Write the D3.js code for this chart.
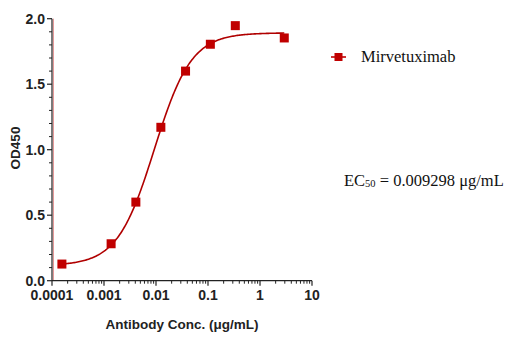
<!DOCTYPE html>
<html><head><meta charset="utf-8">
<script src="https://cdn.jsdelivr.net/npm/d3@7"></script>
<style>body{margin:0;background:#fff}svg{display:block}</style>
</head><body>
<svg id="c" width="527" height="341"></svg>
<script>
// Data
const conc = [0.000155, 0.00137, 0.0041, 0.0124, 0.037, 0.111, 0.335, 2.93];
const od   = [0.127, 0.282, 0.600, 1.171, 1.600, 1.805, 1.947, 1.853];
const xTickVals = [0.0001, 0.001, 0.01, 0.1, 1, 10];
const xTickLabels = ["0.0001", "0.001", "0.01", "0.1", "1", "10"];
const yTickVals = [0, 0.5, 1.0, 1.5, 2.0];
const yTickLabels = ["0.0", "0.5", "1.0", "1.5", "2.0"];
// 4PL fit parameters
const fitBottom = 0.115, fitTop = 1.892, fitEC50 = 0.009298, fitHill = 1.22;
const seriesName = "Mirvetuximab";

const red = "#c00000";
const svg = d3.select("#c");
const x = d3.scaleLog().domain([0.0001, 10]).range([52, 312]);
const y = d3.scaleLinear().domain([0, 2]).range([280.7, 18.7]);

// faint red line next to y axis
svg.append("line").attr("x1", 53.5).attr("x2", 53.5).attr("y1", y(2)).attr("y2", y(0))
  .attr("stroke", "#e08080").attr("stroke-width", 0.8);

// Y axis
const yMinor = d3.range(0, 2.0001, 0.1).map(v => +v.toFixed(1)).filter(v => !yTickVals.some(t => Math.abs(t - v) < 1e-9));
const yg = svg.append("g").attr("transform", "translate(52,0)");
yg.append("line").attr("x1", 0).attr("x2", 0).attr("y1", y(2)).attr("y2", y(0)).attr("stroke", "#222").attr("stroke-width", 1.2);
yg.selectAll(".ymaj").data(yTickVals).join("line").attr("x1", -5).attr("x2", 0)
  .attr("y1", d => y(d)).attr("y2", d => y(d)).attr("stroke", "#222").attr("stroke-width", 1.2);
yg.selectAll(".ymin").data(yMinor).join("line").attr("x1", -3).attr("x2", 0)
  .attr("y1", d => y(d)).attr("y2", d => y(d)).attr("stroke", "#222").attr("stroke-width", 1);
yg.selectAll(".ylab").data(yTickVals).join("text").attr("x", -7).attr("y", d => y(d)).attr("dy", "0.35em")
  .attr("text-anchor", "end").attr("font-family", "Liberation Sans, Arial, sans-serif").attr("font-weight", "bold")
  .attr("font-size", 14).attr("fill", "#222").text((d, i) => yTickLabels[i]);

// X axis
const xMinor = [];
for (let e = -4; e < 1; e++) for (let k = 2; k <= 9; k++) xMinor.push(k * Math.pow(10, e));
const xg = svg.append("g").attr("transform", "translate(0,280.7)");
xg.append("line").attr("x1", x(0.0001)).attr("x2", x(10)).attr("y1", 0).attr("y2", 0).attr("stroke", "#222").attr("stroke-width", 1.2);
xg.selectAll(".xmaj").data(xTickVals).join("line").attr("x1", d => x(d)).attr("x2", d => x(d))
  .attr("y1", 0).attr("y2", 5).attr("stroke", "#222").attr("stroke-width", 1.2);
xg.selectAll(".xmin").data(xMinor).join("line").attr("x1", d => x(d)).attr("x2", d => x(d))
  .attr("y1", 0).attr("y2", 3).attr("stroke", "#222").attr("stroke-width", 1);
xg.selectAll(".xlab").data(xTickVals).join("text").attr("x", d => x(d)).attr("y", 19.5)
  .attr("text-anchor", "middle").attr("font-family", "Liberation Sans, Arial, sans-serif").attr("font-weight", "bold")
  .attr("font-size", 14).attr("fill", "#222").text((d, i) => xTickLabels[i]);

// Axis titles
svg.append("text").attr("x", 182).attr("y", 329).attr("text-anchor", "middle")
  .attr("font-family", "Liberation Sans, Arial, sans-serif").attr("font-weight", "bold").attr("font-size", 13.5)
  .attr("fill", "#222").text("Antibody Conc. (μg/mL)");
svg.append("text").attr("transform", "translate(20,148) rotate(-90)").attr("text-anchor", "middle")
  .attr("font-family", "Liberation Sans, Arial, sans-serif").attr("font-weight", "bold").attr("font-size", 13.5)
  .attr("fill", "#222").text("OD450");

// Fit curve
const f = c => fitBottom + (fitTop - fitBottom) / (1 + Math.pow(fitEC50 / c, fitHill));
const lo = Math.log10(d3.min(conc)), hi = Math.log10(d3.max(conc));
const curvePts = d3.range(0, 201).map(i => Math.pow(10, lo + (hi - lo) * i / 200));
svg.append("path").datum(curvePts)
  .attr("d", d3.line().x(d => x(d)).y(d => y(f(d))))
  .attr("fill", "none").attr("stroke", "#b00000").attr("stroke-width", 1.6);

// Points
const s = 9;
svg.selectAll(".pt").data(conc).join("rect")
  .attr("x", d => x(d) - s / 2).attr("y", (d, i) => y(od[i]) - s / 2)
  .attr("width", s).attr("height", s).attr("fill", red);

// Legend
svg.append("line").attr("x1", 331).attr("x2", 346).attr("y1", 57).attr("y2", 57).attr("stroke", red).attr("stroke-width", 1.6);
svg.append("rect").attr("x", 334.5).attr("y", 53).attr("width", 8).attr("height", 8).attr("fill", red);
svg.append("text").attr("x", 361).attr("y", 62).attr("font-family", "Liberation Serif, Times New Roman, serif")
  .attr("font-size", 16.5).attr("fill", "#111").text(seriesName);

// EC50 annotation
const ec = svg.append("text").attr("x", 344).attr("y", 186).attr("font-family", "Liberation Serif, Times New Roman, serif")
  .attr("font-size", 16.5).attr("fill", "#111");
ec.append("tspan").text("EC");
ec.append("tspan").attr("font-size", 10.5).attr("dy", 1).text("50");
ec.append("tspan").attr("dy", -1).text(" = " + fitEC50 + " μg/mL");
</script>
</body></html>
